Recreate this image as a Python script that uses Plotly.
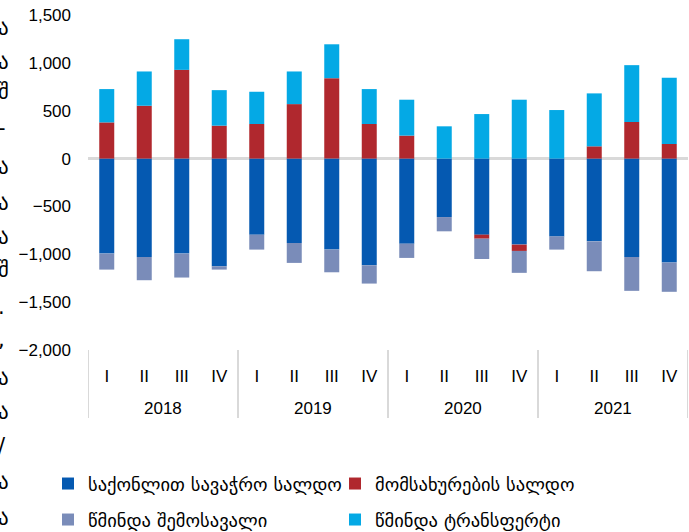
import plotly.graph_objects as go

years = ["2018", "2019", "2020", "2021"]
quarters = ["I", "II", "III", "IV"]
categories = [(y, q) for y in years for q in quarters]

goods = [-993, -1028, -993, -1125, -795, -882, -951, -1115,
         -889, -611, -795, -899, -813, -865, -1028, -1087]
services = [378, 552, 927, 344, 361, 569, 840, 361,
            240, 0, -42, -66, 0, 128, 382, 153]
income = [-167, -243, -250, -35, -156, -208, -237, -191,
          -149, -149, -212, -229, -138, -312, -354, -305]
transfers = [348, 358, 320, 371, 337, 341, 354, 365,
             375, 337, 465, 615, 507, 553, 594, 691]

names = ["საქონლით სავაჭრო სალდო", "მომსახურების სალდო",
         "წმინდა შემოსავალი", "წმინდა ტრანსფერტი"]
colors = ["#0559B1", "#B0282E", "#7A8CB9", "#04A9E5"]
legends = ["legend", "legend", "legend2", "legend2"]

W, H = 689, 532
ml, mr, mt, mb = 88, 1, 15, 182
pw = W - ml - mr
ph = H - mt - mb

font_main = "Liberation Sans, Arial, DejaVu Sans, sans-serif"
font_geo = "DejaVu Sans, Liberation Sans, sans-serif"

xs = list(range(len(categories)))
qlabels = [c[1] for c in categories]

fig = go.Figure()
for vals, name, col, lg in zip([goods, services, income, transfers], names, colors, legends):
    fig.add_trace(go.Bar(x=xs, y=vals, name=name,
                         marker=dict(color=col, line=dict(width=0)),
                         legend=lg))

def px_x(p):
    return (p - ml) / pw

def px_y(p):
    return (mt + ph - p) / ph

# year labels and group dividers
nq = len(quarters)
for i, yr in enumerate(years):
    fig.add_annotation(text=yr, xref="x", yref="paper", x=i * nq + (nq - 1) / 2,
                       y=px_y(408), xanchor="center", yanchor="middle", showarrow=False,
                       font=dict(family=font_main, size=17, color="#000000"))
for i in range(len(years) + 1):
    fig.add_shape(type="line", xref="x", yref="paper", x0=i * nq - 0.5, x1=i * nq - 0.5,
                  y0=px_y(350), y1=px_y(418), line=dict(color="#D9D9D9", width=2))

# clipped column of characters at left edge
edge_chars = ["ა", "ა", "შ", "-", "ა", "ა", "ა", "შ", ".", ",", "ა", "ა", "/", "ა", "ა"]
edge_y = [28, 62, 92, 128, 167, 203, 237, 270, 307, 340, 378, 412, 446, 482, 518]
for ch, yy in zip(edge_chars, edge_y):
    fig.add_annotation(text=ch, xref="paper", yref="paper",
                       x=px_x(-4), y=px_y(yy), xanchor="left", yanchor="middle",
                       showarrow=False, font=dict(family=font_geo, size=21, color="#000000"))

fig.update_layout(
    width=W, height=H,
    margin=dict(l=ml, r=mr, t=mt, b=mb, autoexpand=False),
    barmode="relative",
    bargap=0.6,
    plot_bgcolor="white", paper_bgcolor="white",
    font=dict(family=font_main, size=17, color="#000000"),
    showlegend=True,
    legend=dict(orientation="h", x=px_x(48), y=px_y(465), xanchor="left", yanchor="top",
                entrywidth=242, entrywidthmode="pixels",
                font=dict(family=font_geo, size=18.5, color="#000000"),
                bgcolor="rgba(0,0,0,0)", itemclick=False),
    legend2=dict(orientation="h", x=px_x(48), y=px_y(501), xanchor="left", yanchor="top",
                 entrywidth=242, entrywidthmode="pixels",
                 font=dict(family=font_geo, size=18.5, color="#000000"),
                 bgcolor="rgba(0,0,0,0)", itemclick=False),
    xaxis=dict(range=[-0.5, len(xs) - 0.5], tickvals=xs, ticktext=qlabels,
               showgrid=False, showline=False, ticks="", zeroline=False,
               tickfont=dict(family=font_main, size=17, color="#000000"),
               ticklabelstandoff=14),
    yaxis=dict(range=[-2000, 1500], tickvals=[-2000, -1500, -1000, -500, 0, 500, 1000, 1500],
               tickformat=",d", showgrid=False, showline=False, ticks="",
               zeroline=True, zerolinecolor="#D9D9D9", zerolinewidth=3,
               tickfont=dict(family=font_main, size=17, color="#000000"),
               ticklabelstandoff=16),
)

fig.write_html("out.html", config={"displayModeBar": False},
               post_script="document.body.style.margin='0';document.body.style.padding='0';")
